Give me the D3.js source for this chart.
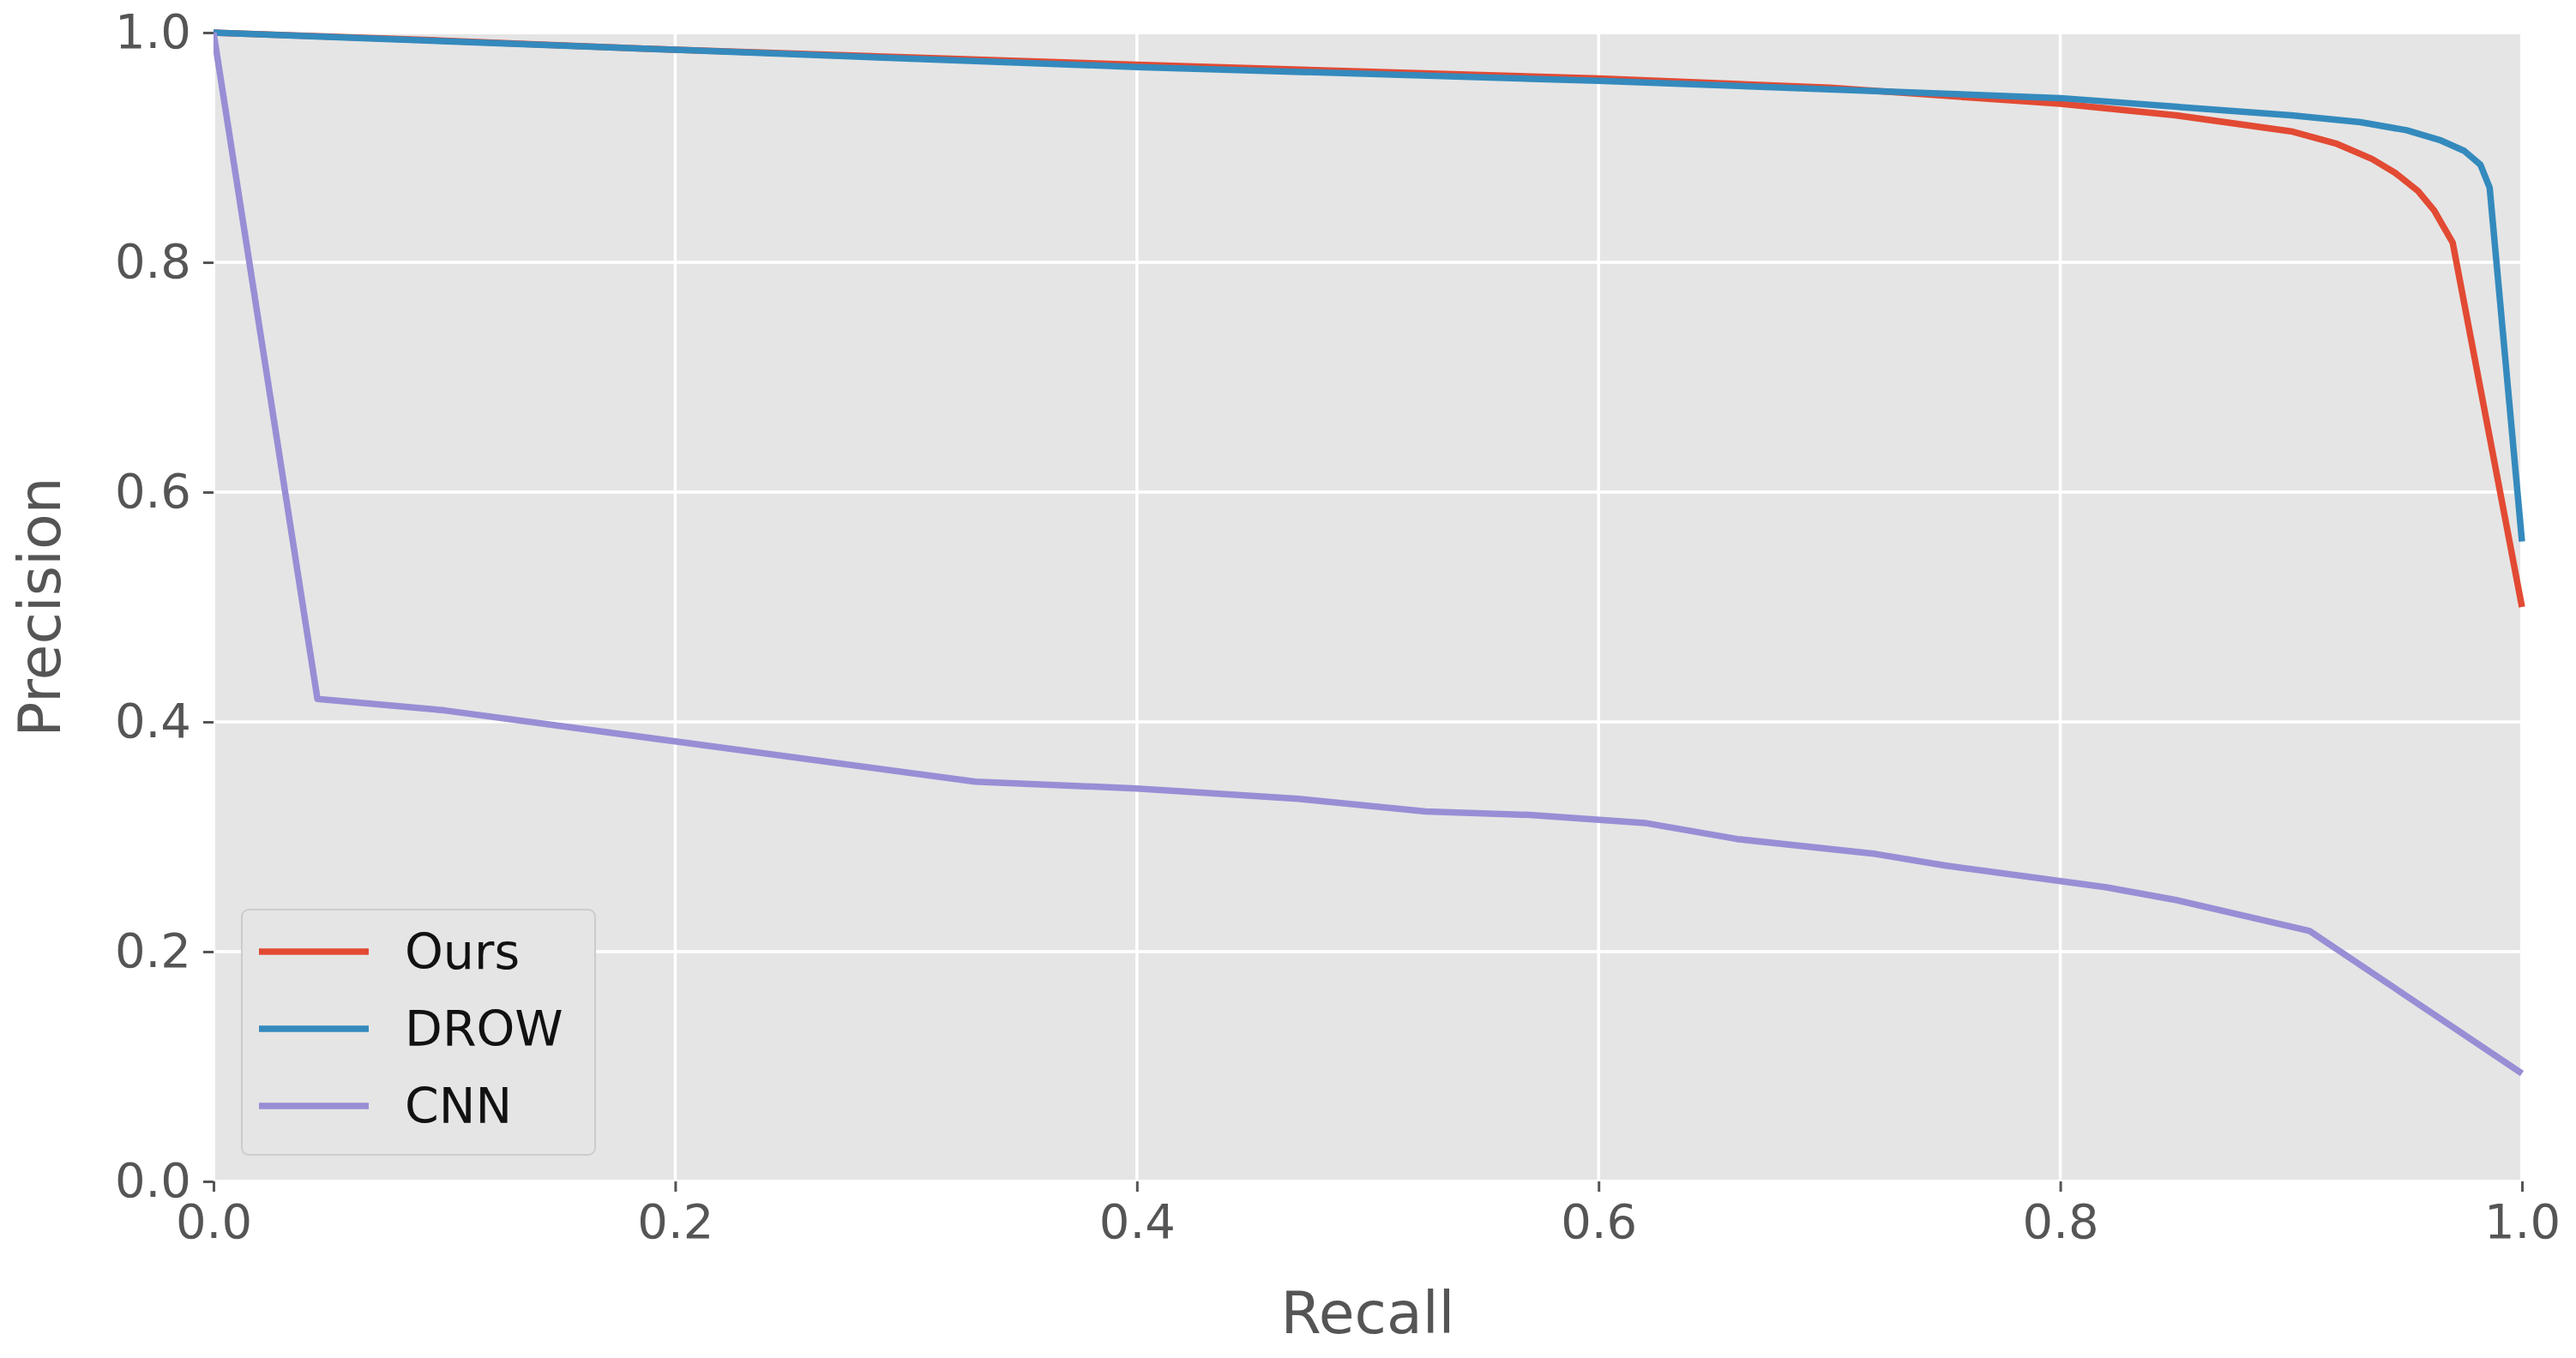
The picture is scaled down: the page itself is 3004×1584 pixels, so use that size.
<!DOCTYPE html><html><head><meta charset="utf-8"><script src="https://cdn.jsdelivr.net/npm/d3@7"></script>
<style>body{margin:0;background:#fff}text{font-family:"DejaVu Sans",sans-serif}</style></head><body><svg id="c" width="3004" height="1584"></svg>
<script>
const oursX=[0,0.1,0.2,0.4,0.6,0.7,0.8,0.85,0.9,0.92,0.935,0.945,0.955,0.962,0.97,1.0];
const oursY=[1.0,0.993,0.985,0.972,0.96,0.952,0.938,0.928,0.914,0.903,0.89,0.878,0.862,0.845,0.817,0.5];
const drowX=[0,0.2,0.4,0.6,0.8,0.9,0.93,0.95,0.965,0.975,0.982,0.986,1.0];
const drowY=[1.0,0.985,0.97,0.958,0.943,0.928,0.922,0.915,0.906,0.897,0.885,0.865,0.557];
const cnnX=[0,0.045,0.1,0.2,0.33,0.4,0.47,0.525,0.57,0.62,0.66,0.72,0.75,0.82,0.85,0.908,1.0];
const cnnY=[1.0,0.42,0.41,0.383,0.348,0.342,0.333,0.322,0.319,0.312,0.298,0.285,0.275,0.256,0.245,0.218,0.094];
const names=["Ours","DROW","CNN"], colors=["#E24A33","#348ABD","#988ED5"];
const ticks=[0,0.2,0.4,0.6,0.8,1.0];
const L=249,R=2941,T=38,B=1378;
const svg=d3.select("#c");
const x=d3.scaleLinear().domain([0,1]).range([L,R]);
const y=d3.scaleLinear().domain([0,1]).range([B,T]);
svg.append("rect").attr("x",L).attr("y",T).attr("width",R-L).attr("height",B-T).attr("fill","#E5E5E5");
ticks.forEach(t=>{
 svg.append("line").attr("x1",x(t)).attr("x2",x(t)).attr("y1",T).attr("y2",B).attr("stroke","#fff").attr("stroke-width",3.5);
 svg.append("line").attr("y1",y(t)).attr("y2",y(t)).attr("x1",L).attr("x2",R).attr("stroke","#fff").attr("stroke-width",3.5);
});
svg.append("rect").attr("x",L).attr("y",T).attr("width",R-L).attr("height",B-T).attr("fill","none").attr("stroke","#fff").attr("stroke-width",4);
const xa=svg.append("g").attr("transform",`translate(0,${B})`).call(d3.axisBottom(x).tickValues(ticks).tickFormat(d3.format(".1f")).tickSize(12).tickPadding(14));
const ya=svg.append("g").attr("transform",`translate(${L},0)`).call(d3.axisLeft(y).tickValues(ticks).tickFormat(d3.format(".1f")).tickSize(12).tickPadding(14));
[xa,ya].forEach(a=>{a.select(".domain").remove();a.selectAll("line").attr("stroke","#555").attr("stroke-width",3);a.selectAll("text").attr("fill","#555").attr("font-size",56).attr("font-family","DejaVu Sans");});
const line=d3.line().x(d=>x(d[0])).y(d=>y(d[1]));
const sets=[[oursX,oursY],[drowX,drowY],[cnnX,cnnY]];
const g=svg.append("g");
g.append("clipPath").attr("id","cl").append("rect").attr("x",L).attr("y",T-5).attr("width",R-L+5).attr("height",B-T+10);
sets.forEach((s,i)=>g.append("path").attr("clip-path","url(#cl)").datum(d3.zip(s[0],s[1])).attr("d",line).attr("fill","none").attr("stroke",colors[i]).attr("stroke-width",7.5).attr("stroke-linejoin","round"));
svg.append("text").attr("x",(L+R)/2).attr("y",1555).attr("text-anchor","middle").attr("font-size",68).attr("fill","#555").text("Recall");
svg.append("text").attr("transform",`translate(70,${(T+B)/2}) rotate(-90)`).attr("text-anchor","middle").attr("font-size",68).attr("fill","#555").text("Precision");
const lg=svg.append("g");
lg.append("rect").attr("x",282).attr("y",1061).attr("width",412).attr("height",286).attr("rx",8).attr("fill","#E5E5E5").attr("stroke","#ccc").attr("stroke-width",2);
names.forEach((n,i)=>{const yy=1110+i*90;
 lg.append("line").attr("x1",302).attr("x2",430).attr("y1",yy).attr("y2",yy).attr("stroke",colors[i]).attr("stroke-width",7.5);
 lg.append("text").attr("x",472).attr("y",yy+20).attr("font-size",57).attr("fill","#111").text(n);});
</script></body></html>
